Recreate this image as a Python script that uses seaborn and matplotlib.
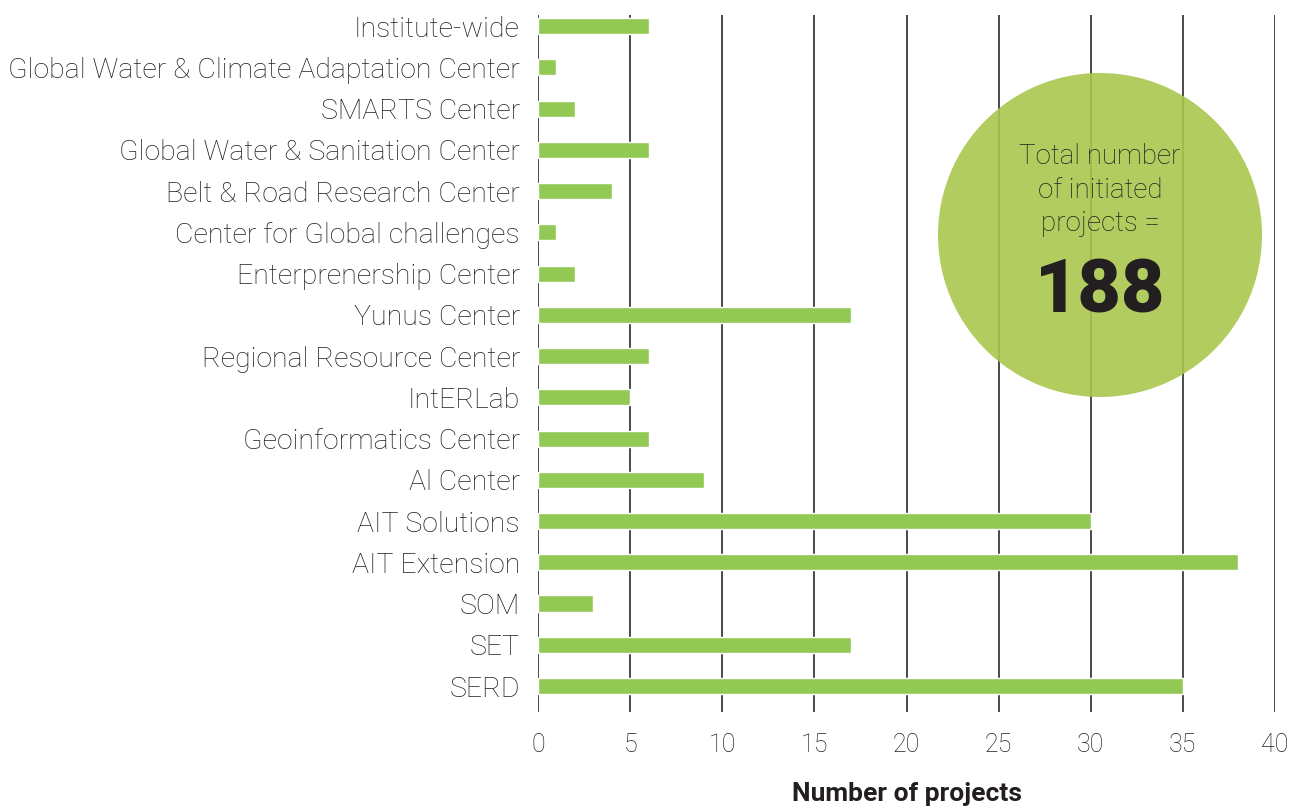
import matplotlib
matplotlib.use("Agg")
import matplotlib.pyplot as plt
from matplotlib.patches import Ellipse
import pandas as pd
import seaborn as sns

# Data
units = [
    "Institute-wide",
    "Global Water & Climate Adaptation Center",
    "SMARTS Center",
    "Global Water & Sanitation Center",
    "Belt & Road Research Center",
    "Center for Global challenges",
    "Enterprenership Center",
    "Yunus Center",
    "Regional Resource Center",
    "IntERLab",
    "Geoinformatics Center",
    "Al Center",
    "AIT Solutions",
    "AIT Extension",
    "SOM",
    "SET",
    "SERD",
]
projects = [6, 1, 2, 6, 4, 1, 2, 17, 6, 5, 6, 9, 30, 38, 3, 17, 35]
x_ticks = [0, 5, 10, 15, 20, 25, 30, 35, 40]
total_projects = sum(projects)

df = pd.DataFrame({"unit": units, "projects": projects})

sns.set_style("white")
plt.rcParams["font.family"] = ["Roboto", "DejaVu Sans"]

fig = plt.figure(figsize=(13.03, 8.11), dpi=100)
ax = fig.add_axes([538 / 1303, 1 - 712 / 811, (1275 - 538) / 1303, (712 - 15) / 811])

# -------------------- BARS --------------------
sns.barplot(data=df, x="projects", y="unit", orient="h", color="#92c955",
            width=0.39, saturation=1, ax=ax, zorder=3)

ax.set_xlim(0, 40)
ax.set_ylim(len(units) - 1 + 0.63, -0.27)
ax.set_xticks(x_ticks)
ax.set_xticklabels([str(t) for t in x_ticks], fontsize=18, fontweight="light", color="#231f20")
ax.set_yticks(range(len(units)))
ax.set_yticklabels(units, fontsize=20.5, fontweight="light", color="#231f20")
ax.tick_params(axis="x", length=0, pad=15)
ax.tick_params(axis="y", length=0, pad=13)

for t in x_ticks:
    ax.axvline(t, color="#2b2b2b", lw=1.2, zorder=1)
for s in ax.spines.values():
    s.set_visible(False)

ax.set_ylabel("")
ax.set_xlabel("Number of projects", fontsize=19, fontweight="bold", color="#231f20", labelpad=18)

# -------------------- TOTAL BUBBLE --------------------
cx, cy, r = 1100 / 1303, 1 - 235 / 811, 162
bubble = Ellipse((cx, cy), 2 * r / 1303, 2 * r / 811, transform=fig.transFigure,
                 facecolor="#aac74e", alpha=0.9, edgecolor="none", zorder=5)
fig.add_artist(bubble)
fig.text(cx, 1 - 190 / 811, "Total number\nof initiated\nprojects =", ha="center", va="center",
         fontsize=20, fontweight="light", color="#231f20", linespacing=1.33, zorder=6)
fig.text(cx, 1 - 292 / 811, str(total_projects), ha="center", va="center",
         fontsize=54, fontweight="black", color="#231f20", zorder=6)

plt.savefig("out.png", dpi=100)
plt.close()
